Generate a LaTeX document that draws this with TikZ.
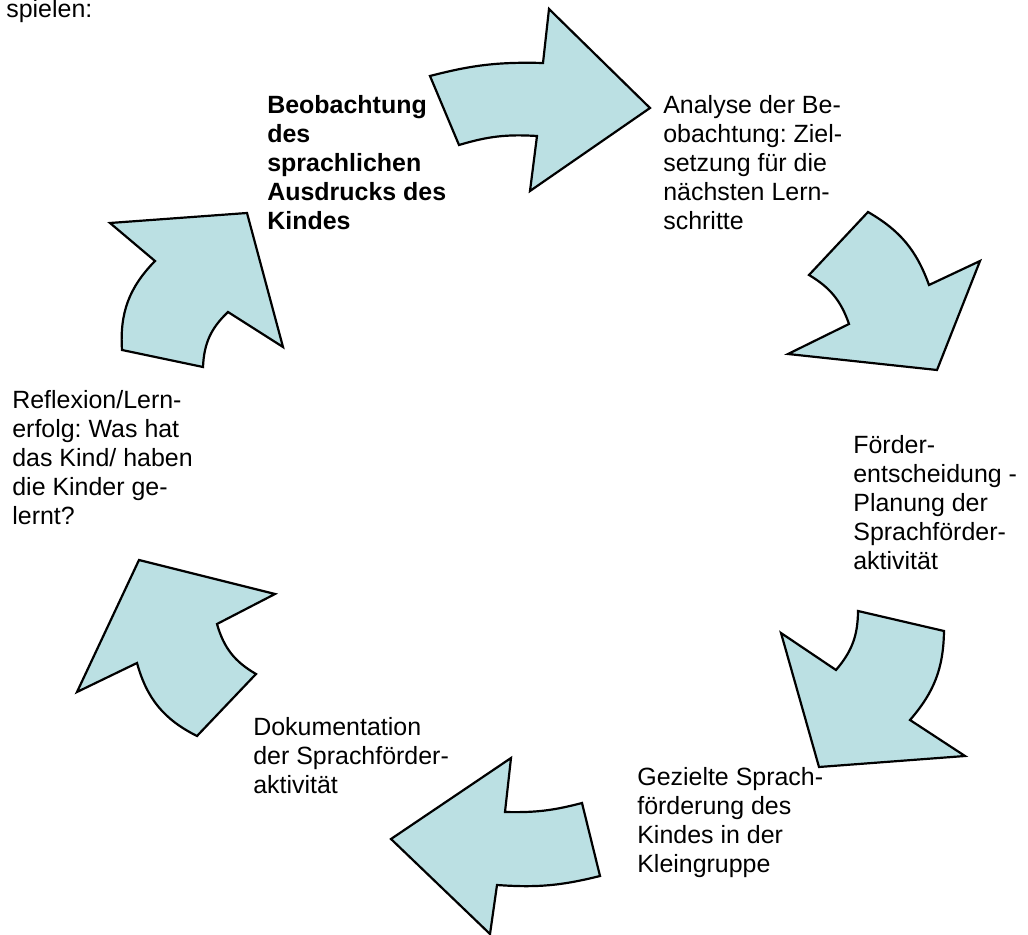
\documentclass[tikz,border=0pt]{standalone}
\usepackage{fontspec}
\setmainfont{Liberation Sans}
\usepackage{tikz}
\definecolor{cyclefill}{RGB}{187,224,227}
\definecolor{cycleedge}{RGB}{0,0,0}
\newcommand{\stepfont}{\fontsize{14.2}{16.5}\selectfont\frenchspacing}

\begin{document}
\begin{tikzpicture}[x=0.02cm,y=-0.02cm,
    cyclearrow/.style={draw=cycleedge,line width=1.25pt,fill=cyclefill,line join=miter},
    steptext/.style={anchor=north west,inner sep=0pt,align=left,font=\stepfont}]
  \useasboundingbox (0,0) rectangle (1028,935);
  \draw[cyclearrow] (430,76) to[bend left=8] (543,63) -- (549,9) -- (650,108)
    -- (530,191) -- (537,136) to[bend right=10] (459,145) -- cycle;
  \draw[cyclearrow] (868,212) to[bend left=20] (929,285) -- (980,261) -- (937,370)
    -- (788,354) -- (849,324) to[bend right=20] (809,275) -- cycle;
  \draw[cyclearrow] (858,611) -- (944,631) to[bend left=20] (910,720) -- (965,756)
    -- (819,767) -- (781,633) -- (836,670) to[bend right=20] cycle;
  \draw[cyclearrow] (582,803) to[bend left=8] (505,812) -- (511,758) -- (391,839)
    -- (490,934) -- (497,885) to[bend right=9] (600,876) -- cycle;
  \draw[cyclearrow] (139,560) -- (275,594) -- (217,624) to[bend right=22] (256,674)
    -- (197,736) to[bend left=24] (137,663) -- (77,692) -- cycle;
  \draw[cyclearrow] (247,213) -- (283,347) -- (228,312) to[bend right=22] (203,367)
    -- (122,350) to[bend left=24] (155,261) -- (110,223) -- cycle;

  \node[anchor=base west,inner sep=0pt,font=\stepfont] (intro) at (6,17.5) {spielen:};
  \node[steptext,font=\stepfont\bfseries] (observe) at (267,95)
    {Beobachtung\\des\\sprachlichen\\Ausdrucks des\\Kindes};
  \node[steptext] (analyse) at (663,95)
    {Analyse der Be-\\obachtung: Ziel-\\setzung für die\\nächsten Lern-\\schritte};
  \node[steptext] (decide) at (853,435)
    {Förder-\\entscheidung -\\Planung der\\Sprachförder-\\aktivität};
  \node[steptext] (support) at (637,767)
    {Gezielte Sprach-\\förderung des\\Kindes in der\\Kleingruppe};
  \node[steptext] (document) at (253,717)
    {Dokumentation\\der Sprachförder-\\aktivität};
  \node[steptext] (reflect) at (12,390)
    {Reflexion/Lern-\\erfolg: Was hat\\das Kind/ haben\\die Kinder ge-\\lernt?};
\end{tikzpicture}
\end{document}
